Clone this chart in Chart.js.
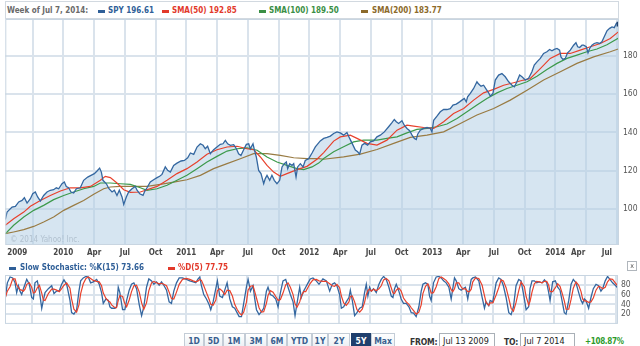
<!DOCTYPE html>
<html><head><meta charset="utf-8">
<script src="https://cdn.jsdelivr.net/npm/chart.js@4.4.1/dist/chart.umd.min.js"></script>
<style>
html,body{margin:0;padding:0;background:#fff;width:640px;height:346px;overflow:hidden;position:relative;font-family:"DejaVu Sans Condensed","DejaVu Sans",sans-serif;}
canvas{position:absolute;left:0;}
.t{position:absolute;font-weight:bold;font-size:8px;line-height:10px;white-space:nowrap;}
.sw{position:absolute;width:7px;height:3px;}
.box{position:absolute;border:1px solid #d2d9e0;background:#fff;}
.btn{position:absolute;top:333px;height:16px;border:1px solid #c3ccd6;background:linear-gradient(#ffffff,#e9eef3);font-weight:bold;font-size:8.5px;line-height:14px;text-align:center;color:#3a5f8f;box-sizing:border-box;}
.btn.sel{background:#1f3f6d;color:#fff;border-color:#1f3f6d;}
.inp{position:absolute;top:333px;height:17px;border:1px solid #a9b0b7;box-sizing:border-box;font-size:9px;line-height:15px;padding-left:3px;color:#222;background:#fff;}
</style>
</head><body>
<div class="box" style="left:5px;top:1px;width:612px;height:16px;"></div>
<span class="t" style="left:7px;top:6px;color:#6a6a6a;">Week of Jul 7, 2014:</span>
<i class="sw" style="left:98px;top:10px;background:#2f5f98"></i><span class="t" style="left:108px;top:6px;color:#2f5f98">SPY 196.61</span>
<i class="sw" style="left:162px;top:10px;background:#e2392a"></i><span class="t" style="left:172px;top:6px;color:#e2392a">SMA(50) 192.85</span>
<i class="sw" style="left:259px;top:10px;background:#3a8f45"></i><span class="t" style="left:269px;top:6px;color:#3a8f45">SMA(100) 189.50</span>
<i class="sw" style="left:361px;top:10px;background:#8c6a2a"></i><span class="t" style="left:372px;top:6px;color:#8c6a2a">SMA(200) 183.77</span>

<canvas id="c1" width="640" height="260" style="top:0"></canvas>
<canvas id="c2" width="640" height="72" style="top:260px"></canvas>

<i class="sw" style="left:9px;top:267px;background:#2f5f98"></i><span class="t" style="left:20px;top:263px;color:#2f5f98">Slow Stochastic: %K(15) 73.66</span>
<i class="sw" style="left:168px;top:267px;background:#e2392a"></i><span class="t" style="left:178px;top:263px;color:#e2392a">%D(5) 77.75</span>
<div style="position:absolute;left:627px;top:261px;width:8px;height:8px;border:1px solid #b0b6bc;font-size:7px;line-height:8px;text-align:center;color:#555;">x</div>

<div class="btn" style="left:184px;width:20px">1D</div>
<div class="btn" style="left:204px;width:19px">5D</div>
<div class="btn" style="left:223px;width:22px">1M</div>
<div class="btn" style="left:245px;width:22px">3M</div>
<div class="btn" style="left:267px;width:20px">6M</div>
<div class="btn" style="left:287px;width:25px">YTD</div>
<div class="btn" style="left:312px;width:16px">1Y</div>
<div class="btn" style="left:328px;width:22px">2Y</div>
<div class="btn sel" style="left:351px;width:20px">5Y</div>
<div class="btn" style="left:371px;width:24px">Max</div>
<span class="t" style="left:410px;top:337px;font-size:8.5px;letter-spacing:-0.2px;color:#333">FROM:</span>
<div class="inp" style="left:439px;width:56px">Jul 13 2009</div>
<span class="t" style="left:504px;top:337px;font-size:8.5px;letter-spacing:-0.2px;color:#333">TO:</span>
<div class="inp" style="left:520px;width:55px">Jul 7 2014</div>
<span class="t" style="left:585px;top:337px;font-size:8px;letter-spacing:-0.3px;color:#2c9a2c">+108.87%</span>

<script>
// ---------- DATA (time as decimal year) ----------
const spyT = [2009.528,2009.542,2009.583,2009.610,2009.637,2009.664,2009.683,2009.705,2009.732,2009.751,
2009.772,2009.791,2009.813,2009.840,2009.867,2009.894,2009.921,2009.943,2009.962,2009.989,
2010.008,2010.024,2010.043,2010.062,2010.084,2010.106,2010.138,2010.165,2010.198,2010.225,
2010.252,2010.274,2010.295,2010.309,2010.322,2010.350,2010.371,2010.396,2010.415,2010.436,
2010.455,2010.477,2010.491,2010.512,2010.531,2010.558,2010.585,2010.599,2010.621,2010.648,
2010.659,2010.680,2010.707,2010.734,2010.762,2010.783,2010.802,2010.829,2010.848,2010.870,
2010.897,2010.924,2010.957,2010.984,2011.011,2011.033,2011.060,2011.087,2011.114,2011.136,
2011.154,2011.173,2011.195,2011.222,2011.249,2011.276,2011.298,2011.317,2011.336,2011.358,
2011.385,2011.407,2011.425,2011.444,2011.466,2011.488,2011.507,2011.520,2011.542,2011.553,
2011.569,2011.588,2011.607,2011.629,2011.642,2011.656,2011.678,2011.696,2011.715,2011.737,
2011.759,2011.778,2011.797,2011.813,2011.824,2011.840,2011.859,2011.873,2011.892,2011.905,
2011.927,2011.949,2011.967,2011.995,2012.022,2012.049,2012.089,2012.117,2012.144,2012.171,
2012.198,2012.225,2012.252,2012.279,2012.306,2012.328,2012.355,2012.374,2012.393,2012.409,
2012.428,2012.450,2012.474,2012.496,2012.523,2012.550,2012.577,2012.610,2012.645,2012.672,
2012.691,2012.707,2012.726,2012.753,2012.772,2012.794,2012.816,2012.835,2012.854,2012.870,
2012.881,2012.902,2012.930,2012.957,2012.984,2012.997,2013.011,2013.038,2013.065,2013.092,
2013.119,2013.146,2013.168,2013.195,2013.222,2013.241,2013.260,2013.276,2013.287,2013.309,
2013.336,2013.363,2013.377,2013.396,2013.417,2013.439,2013.458,2013.472,2013.493,2013.512,
2013.539,2013.566,2013.593,2013.621,2013.648,2013.667,2013.688,2013.710,2013.729,2013.756,
2013.783,2013.810,2013.829,2013.851,2013.878,2013.905,2013.932,2013.954,2013.973,2013.992,
2014.014,2014.035,2014.046,2014.062,2014.081,2014.100,2014.122,2014.149,2014.168,2014.182,
2014.198,2014.217,2014.230,2014.252,2014.266,2014.279,2014.298,2014.317,2014.339,2014.360,
2014.379,2014.398,2014.420,2014.442,2014.461,2014.480,2014.496,2014.507,2014.518];
const spyV = [94.5,98.4,101.0,101.4,103.7,104.5,105.9,103.1,105.4,108.0,
108.9,106.3,104.2,107.1,108.9,109.8,110.1,111.1,110.6,113.2,
114.1,111.8,111.1,108.9,108.4,110.6,111.1,115.0,116.7,117.6,
118.5,119.9,121.4,119.3,115.0,113.2,110.6,108.9,109.8,107.1,
109.8,106.3,102.4,106.3,108.9,110.6,111.8,109.8,108.0,107.1,
108.9,111.1,114.1,115.3,116.4,117.1,118.1,122.0,120.2,119.3,
122.8,124.0,125.1,125.4,126.8,129.3,128.6,132.4,134.1,133.3,
131.5,132.8,128.9,131.0,132.4,133.8,134.1,135.9,134.1,133.3,
133.6,131.5,128.9,128.0,131.0,133.8,134.1,131.5,134.1,131.0,
127.2,120.2,118.5,113.2,115.9,117.6,115.0,117.6,115.0,113.2,
115.0,122.0,123.7,124.6,121.1,123.7,122.8,123.7,116.7,122.0,
123.7,122.0,125.4,126.3,129.3,132.5,135.6,136.9,137.4,138.1,
139.5,140.3,139.8,138.6,140.0,136.9,133.4,130.8,129.9,128.7,
133.4,134.3,133.4,135.1,135.6,137.7,138.6,140.3,143.0,145.1,
146.8,145.6,144.7,146.1,143.8,142.1,140.9,138.6,136.9,136.3,
139.1,141.2,142.1,142.6,142.1,140.3,146.4,148.5,150.8,152.0,
152.0,152.4,154.3,154.8,156.0,156.9,157.8,156.0,158.6,160.4,
163.0,166.5,165.3,164.2,164.7,162.5,160.7,159.0,160.4,167.4,
170.0,170.8,169.1,166.5,164.7,163.9,166.5,170.0,169.1,167.4,
168.3,171.7,175.2,176.9,178.7,181.3,182.2,183.4,182.7,183.4,
183.9,183.0,179.5,178.2,178.7,181.6,183.0,185.6,186.9,184.8,
184.4,185.6,185.6,184.8,181.6,183.9,185.6,186.5,186.9,186.5,
187.4,190.0,193.1,194.4,195.2,194.8,197.0,197.3,196.61];

const sma50T = [2009.528,2009.596,2009.678,2009.732,2009.813,2009.894,2009.976,2010.057,2010.138,2010.220,2010.301,2010.341,2010.382,2010.436,2010.491,2010.545,2010.626,2010.680,2010.762,2010.843,2010.924,2011.005,2011.087,2011.168,2011.249,2011.331,2011.412,2011.493,2011.547,2011.602,2011.656,2011.710,2011.764,2011.818,2011.900,2011.981,2012.062,2012.117,2012.198,2012.252,2012.333,2012.388,2012.469,2012.550,2012.631,2012.713,2012.794,2012.848,2012.930,2013.011,2013.092,2013.173,2013.255,2013.336,2013.417,2013.499,2013.580,2013.661,2013.743,2013.797,2013.878,2013.959,2014.041,2014.122,2014.203,2014.285,2014.366,2014.447,2014.518];
const sma50V = [91.5,94.9,98.4,101.4,104.5,107.1,109.4,111.1,111.1,111.8,115.0,117.1,116.4,113.6,110.1,108.7,108.9,110.1,111.8,115.0,118.5,121.1,124.6,128.6,131.0,132.4,132.8,131.5,131.0,127.2,122.8,119.3,117.1,118.5,120.6,122.3,126.0,129.5,135.5,137.7,138.6,136.9,134.3,133.4,136.0,141.2,143.8,143.3,142.6,142.1,145.6,149.9,152.5,156.9,160.7,162.5,164.7,166.0,167.4,168.2,173.4,178.7,181.3,181.3,183.0,184.8,186.5,189.1,192.85];

const sma100T = [2009.528,2009.596,2009.678,2009.759,2009.840,2009.921,2010.003,2010.084,2010.165,2010.247,2010.301,2010.382,2010.463,2010.545,2010.626,2010.680,2010.762,2010.843,2010.924,2011.005,2011.087,2011.168,2011.249,2011.331,2011.412,2011.493,2011.575,2011.656,2011.737,2011.818,2011.900,2011.954,2012.022,2012.076,2012.117,2012.198,2012.279,2012.360,2012.442,2012.550,2012.631,2012.713,2012.794,2012.875,2012.957,2013.038,2013.119,2013.201,2013.282,2013.363,2013.444,2013.526,2013.607,2013.688,2013.770,2013.851,2013.932,2014.014,2014.095,2014.176,2014.257,2014.339,2014.420,2014.518];
const sma100V = [87.1,91.5,95.8,99.3,101.9,104.9,107.1,108.9,110.6,111.8,113.6,113.6,113.2,112.9,111.1,109.8,110.6,112.4,115.0,117.6,121.1,124.6,127.5,130.3,131.5,131.9,130.7,127.2,124.6,122.8,121.1,120.6,122.0,124.0,126.4,129.9,132.5,135.1,136.0,136.0,136.9,137.7,139.8,141.6,142.1,143.0,144.4,147.3,150.8,154.3,157.8,160.7,163.0,164.7,166.5,169.4,172.9,176.1,178.7,180.4,182.2,183.6,185.8,189.5];

const sma200T = [2009.528,2009.596,2009.678,2009.759,2009.840,2009.921,2010.003,2010.084,2010.165,2010.247,2010.328,2010.382,2010.463,2010.572,2010.680,2010.789,2010.897,2011.005,2011.114,2011.222,2011.331,2011.439,2011.547,2011.656,2011.764,2011.873,2011.981,2012.076,2012.117,2012.279,2012.415,2012.550,2012.686,2012.821,2012.957,2013.092,2013.228,2013.363,2013.499,2013.634,2013.770,2013.905,2014.041,2014.176,2014.312,2014.447,2014.518];
const sma200V = [87.1,88.0,89.2,90.9,93.2,95.8,99.3,101.9,104.5,107.7,110.6,111.5,111.8,111.8,111.8,112.9,114.1,115.3,117.6,121.1,123.7,126.3,128.9,128.9,128.0,126.8,126.3,126.3,126.0,127.3,128.7,131.1,134.3,137.4,138.6,140.3,144.7,149.1,152.5,156.9,162.1,167.4,171.7,176.1,179.5,182.2,183.77];

const stochT = [2009.528,2009.547,2009.569,2009.591,2009.610,2009.623,2009.637,2009.650,2009.664,2009.678,
2009.691,2009.705,2009.726,2009.745,2009.759,2009.772,2009.791,2009.808,2009.827,2009.840,
2009.854,2009.881,2009.908,2009.927,2009.948,2009.970,2009.989,2010.008,2010.030,2010.057,
2010.070,2010.089,2010.111,2010.130,2010.144,2010.165,2010.187,2010.206,2010.225,2010.247,
2010.274,2010.295,2010.314,2010.328,2010.350,2010.369,2010.382,2010.396,2010.423,2010.436,
2010.450,2010.463,2010.485,2010.504,2010.518,2010.539,2010.558,2010.577,2010.599,2010.621,
2010.640,2010.658,2010.680,2010.699,2010.721,2010.740,2010.761,2010.783,2010.802,2010.821,
2010.843,2010.864,2010.883,2010.902,2010.924,2010.946,2010.973,2011.005,2011.032,2011.060,
2011.081,2011.100,2011.114,2011.127,2011.146,2011.168,2011.190,2011.203,2011.222,2011.244,
2011.257,2011.276,2011.298,2011.317,2011.336,2011.358,2011.379,2011.398,2011.417,2011.434,
2011.453,2011.471,2011.493,2011.507,2011.526,2011.547,2011.561,2011.575,2011.596,2011.615,
2011.634,2011.656,2011.669,2011.688,2011.710,2011.732,2011.751,2011.770,2011.791,2011.813,
2011.832,2011.851,2011.873,2011.889,2011.905,2011.927,2011.940,2011.959,2011.976,2011.995,
2012.013,2012.035,2012.062,2012.084,2012.116,2012.144,2012.171,2012.192,2012.211,2012.230,
2012.252,2012.266,2012.285,2012.306,2012.328,2012.339,2012.355,2012.374,2012.393,2012.415,
2012.436,2012.455,2012.469,2012.482,2012.496,2012.510,2012.528,2012.550,2012.572,2012.591,
2012.610,2012.631,2012.653,2012.672,2012.686,2012.699,2012.713,2012.734,2012.753,2012.772,
2012.794,2012.816,2012.835,2012.854,2012.875,2012.897,2012.916,2012.930,2012.951,2012.970,
2012.984,2012.997,2013.016,2013.038,2013.060,2013.079,2013.098,2013.119,2013.141,2013.160,
2013.173,2013.187,2013.201,2013.222,2013.241,2013.255,2013.276,2013.295,2013.309,2013.323,
2013.336,2013.358,2013.385,2013.412,2013.431,2013.444,2013.466,2013.477,2013.499,2013.526,
2013.547,2013.566,2013.585,2013.607,2013.629,2013.648,2013.667,2013.688,2013.710,2013.729,
2013.756,2013.770,2013.791,2013.802,2013.818,2013.837,2013.856,2013.878,2013.900,2013.919,
2013.938,2013.954,2013.965,2013.986,2014.008,2014.027,2014.046,2014.062,2014.081,2014.095,
2014.117,2014.136,2014.154,2014.176,2014.198,2014.217,2014.230,2014.244,2014.257,2014.279,
2014.298,2014.317,2014.339,2014.360,2014.379,2014.393,2014.414,2014.433,2014.452,2014.474,
2014.496,2014.515];
const stochK = [48,84,96,94,84,64,78,67,60,72,
81,91,81,54,51,84,88,67,32,48,
64,72,78,62,67,68,81,90,81,48,
23,20,29,67,88,94,97,96,84,86,
91,81,64,42,51,48,35,32,32,35,
75,64,29,29,48,69,81,84,72,39,
17,35,75,92,88,81,86,79,86,79,
69,45,42,67,84,94,94,91,88,86,
84,92,96,78,60,51,39,29,45,72,
88,57,54,69,84,51,35,32,23,15,
15,42,75,91,67,78,51,29,19,25,
32,67,75,60,57,51,35,64,88,91,
75,60,45,17,42,75,54,67,75,84,
92,94,88,81,92,88,67,81,84,78,
60,32,35,45,54,69,48,17,23,32,
35,64,81,57,75,67,72,64,81,91,
97,91,75,57,54,72,81,67,51,42,
42,35,23,22,15,35,67,81,84,81,
57,48,84,96,97,94,88,84,75,51,
72,94,88,72,69,72,75,51,72,91,
94,96,88,54,32,45,37,48,45,84,
94,91,78,54,23,19,35,78,91,88,
51,29,35,72,88,88,84,86,84,90,
84,64,48,86,88,75,69,48,23,20,
48,81,91,84,64,48,42,51,48,32,
54,72,81,78,67,72,88,97,91,84,
79,73.66];
const stochD = [52,67,76,92,92,80,75,70,69,67,
71,81,84,75,63,64,74,79,63,49,
48,62,71,71,69,66,72,79,84,73,
51,30,24,39,62,82,93,96,93,89,
87,86,78,63,52,47,45,39,33,33,
48,58,56,41,35,49,66,78,79,65,
43,30,43,68,84,87,84,82,83,81,
78,65,52,51,65,81,91,93,91,88,
86,88,91,89,78,64,50,40,38,49,
68,72,67,60,69,68,57,40,30,23,
18,24,44,69,77,78,66,53,33,24,
25,42,58,68,65,56,48,50,63,80,
84,75,60,41,34,45,57,66,66,75,
83,90,91,88,87,87,82,78,77,81,
74,57,43,38,45,56,57,45,29,24,
30,44,60,68,71,67,71,68,72,78,
90,93,88,74,63,62,69,73,67,53,
45,40,33,27,20,24,39,62,77,82,
74,63,64,76,93,96,93,89,82,70,
66,72,84,84,76,71,72,66,66,71,
86,94,93,79,58,44,38,43,43,59,
74,90,88,74,52,32,26,44,68,86,
76,56,39,46,65,82,87,86,84,87,
87,79,66,66,74,82,77,64,47,30,
30,50,73,86,79,66,51,47,47,44,
45,53,69,77,75,72,75,86,92,91,
84,77.75];

const xTickVals = [2009.75,2010,2010.25,2010.5,2010.75,2011,2011.25,2011.5,2011.75,2012,2012.25,2012.5,2012.75,2013,2013.25,2013.5,2013.75,2014,2014.25,2014.5];
const xTickLabels = ['','2010','Apr','Jul','Oct','2011','Apr','Jul','Oct','2012','Apr','Jul','Oct','2013','Apr','Jul','Oct','2014','Apr','Jul'];
const firstYearLabel = '2009';
const yTicks = [100,120,140,160,180];
const stochTicks = [20,40,60,80];
const watermark = '\u00A9 2014 Yahoo! Inc.';

// ---------- helpers ----------
const pts = (T,V) => T.slice(0, Math.min(T.length, V.length)).map((t,i)=>({x:t,y:V[i]}));
const FONT = "'DejaVu Sans Condensed','DejaVu Sans',sans-serif";
const GRID = '#dae3ec';
const FRAME = '#c8d5e1';

const framePlugin = {
  id:'frame',
  afterDraw(chart){
    const a = chart.chartArea, ctx = chart.ctx;
    ctx.save();
    ctx.strokeStyle = FRAME; ctx.lineWidth = 1;
    ctx.strokeRect(a.left+0.5, a.top+0.5, a.right-a.left-1, a.bottom-a.top-1);
    ctx.restore();
  }
};

const xLabelPlugin = {
  id:'xlab',
  afterDraw(chart){
    const a = chart.chartArea, ctx = chart.ctx, x = chart.scales.x;
    ctx.save();
    ctx.font = 'bold 8px ' + FONT;
    ctx.fillStyle = '#474747';
    ctx.textBaseline = 'middle';
    ctx.textAlign = 'left';
    const yy = a.bottom + 8;
    ctx.fillText(firstYearLabel, a.left + 2, yy);
    const n = xTickVals.length;
    xTickVals.forEach((v,i)=>{
      const lab = xTickLabels[i]; if(!lab) return;
      const w = ctx.measureText(lab).width;
      let left = x.getPixelForValue(v) - w/2;
      if (i === n-1) left = a.right - 7 - w;
      else if (i === n-2) left -= 8;
      ctx.fillText(lab, left, yy);
    });
    ctx.font = '8px ' + FONT;
    ctx.fillStyle = '#b2c2d0';
    ctx.fillText(watermark, a.left + 5, a.bottom - 5);
    ctx.restore();
  }
};

const lineDs = (label, data, color, w) => ({label, data, borderColor:color, borderWidth:w, pointRadius:0, tension:0, fill:false});

const spyPts = pts(spyT, spyV);
const spyDs = lineDs('SPY', spyPts, '#3467a0', 1.3);
spyDs.fill = 'start';
spyDs.backgroundColor = 'rgba(180,208,230,0.55)';
spyDs.pointRadius = spyPts.map((p,i)=> i === spyPts.length-1 ? 2.5 : 0);
spyDs.pointStyle = 'rect';
spyDs.pointBackgroundColor = '#1f3f6d';
spyDs.pointBorderColor = '#1f3f6d';

new Chart(document.getElementById('c1'), {
  type:'line',
  data:{datasets:[
    spyDs,
    lineDs('SMA(50)', pts(sma50T, sma50V), '#e8412c', 1.2),
    lineDs('SMA(100)', pts(sma100T, sma100V), '#3d9a4c', 1.2),
    lineDs('SMA(200)', pts(sma200T, sma200V), '#997b43', 1.2)
  ]},
  options:{
    responsive:false, animation:false, devicePixelRatio:1,
    layout:{padding:{left:5, top:19, right:0, bottom:0}},
    plugins:{legend:{display:false}, tooltip:{enabled:false}, filler:{drawTime:'beforeDatasetsDraw'}},
    scales:{
      x:{type:'linear', min:2009.528, max:2014.518,
         afterBuildTicks:s=>{ s.ticks = xTickVals.map(v=>({value:v})); },
         afterFit:s=>{ s.height = 15; },
         ticks:{display:false},
         grid:{color:GRID, lineWidth:2, drawTicks:false},
         border:{display:false}},
      y:{type:'linear', position:'right', min:81.2, max:199.3,
         afterBuildTicks:s=>{ s.ticks = yTicks.map(v=>({value:v})); },
         afterFit:s=>{ s.width = 21; },
         ticks:{color:'#555', padding:4, font:{family:FONT, size:8.5}},
         grid:{color:GRID, lineWidth:2, drawTicks:false},
         border:{display:false}}
    }
  },
  plugins:[framePlugin, xLabelPlugin]
});

new Chart(document.getElementById('c2'), {
  type:'line',
  data:{datasets:[
    lineDs('%D(5)', pts(stochT, stochD), '#e8412c', 1.2),
    lineDs('%K(15)', pts(stochT, stochK), '#3467a0', 1.3)
  ]},
  options:{
    responsive:false, animation:false, devicePixelRatio:1,
    layout:{padding:{left:5, top:15, right:0, bottom:0}},
    plugins:{legend:{display:false}, tooltip:{enabled:false}},
    scales:{
      x:{type:'linear', min:2009.528, max:2014.518,
         afterBuildTicks:s=>{ s.ticks = xTickVals.map(v=>({value:v})); },
         afterFit:s=>{ s.height = 2; },
         ticks:{display:false},
         grid:{color:GRID, lineWidth:2, drawTicks:false},
         border:{display:false}},
      y:{type:'linear', position:'right', min:0, max:100,
         afterBuildTicks:s=>{ s.ticks = stochTicks.map(v=>({value:v})); },
         afterFit:s=>{ s.width = 22; },
         ticks:{color:'#555', padding:3, font:{family:FONT, size:8.5}},
         grid:{color:GRID, lineWidth:2, drawTicks:false},
         border:{display:false}}
    }
  },
  plugins:[framePlugin]
});
</script>
</body></html>
